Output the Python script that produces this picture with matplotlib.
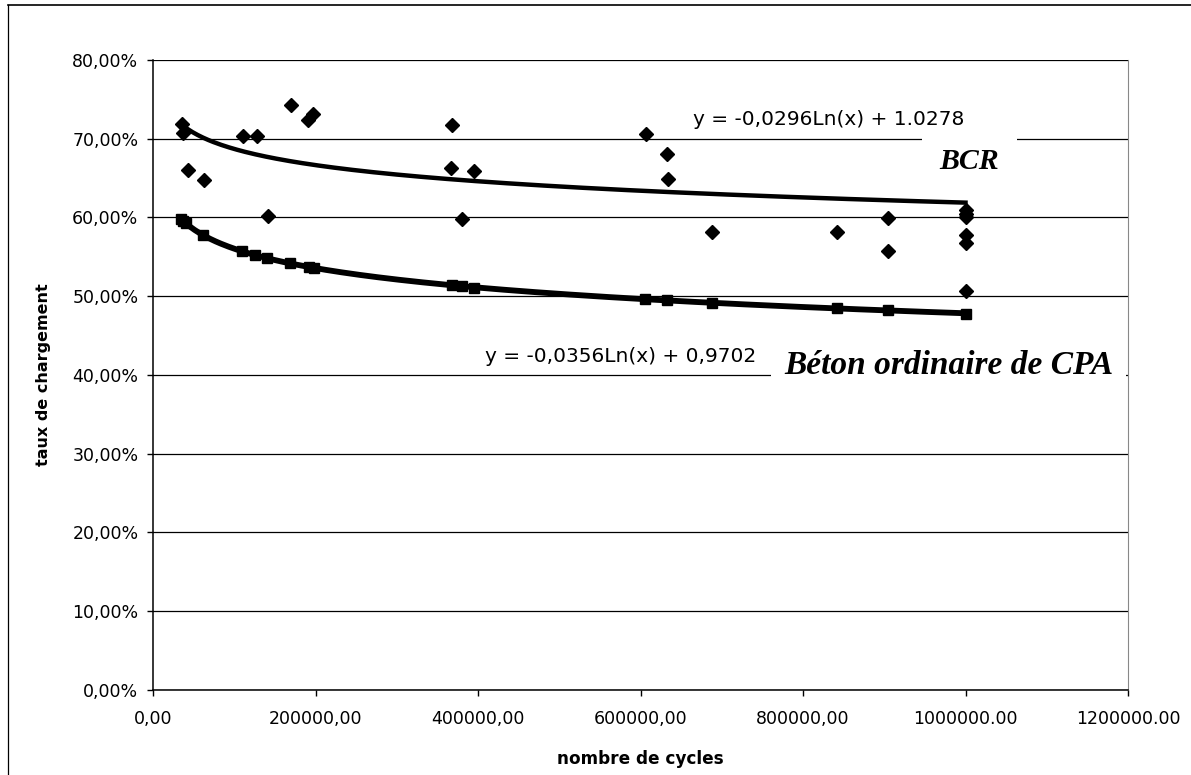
import numpy as np
import matplotlib.pyplot as plt
from matplotlib.lines import Line2D

# BCR specimens (diamonds)
bcr_cycles = [35700, 37300, 43400, 63100, 111100, 128400, 141900, 169800, 191100, 197300,
              368400, 366800, 379900, 395500, 606400, 633000, 634200, 688400,
              842200, 905000, 905000, 1000000, 1000000, 1000000, 1000000, 1000000, 1000000]
bcr_rate = [0.719, 0.707, 0.660, 0.647, 0.704, 0.704, 0.602, 0.743, 0.724, 0.731,
            0.718, 0.663, 0.598, 0.659, 0.706, 0.680, 0.649, 0.582,
            0.581, 0.599, 0.558, 0.610, 0.605, 0.601, 0.578, 0.567, 0.507]

# ordinary CPA concrete (squares)
cpa_cycles = [35000, 37000, 40000, 61000, 110000, 126000, 140000, 169000, 192000, 198000,
              368000, 380000, 395000, 605000, 633000, 688000, 842000, 905000, 1000000]
cpa_rate = [0.598, 0.596, 0.593, 0.578, 0.557, 0.552, 0.548, 0.542, 0.537, 0.536,
            0.514, 0.513, 0.511, 0.496, 0.495, 0.492, 0.485, 0.482, 0.478]

# logarithmic trendlines y = a*Ln(x) + b
bcr_a, bcr_b = -0.0296, 1.0278
cpa_a, cpa_b = -0.0356, 0.9702

x_ticks = [0, 200000, 400000, 600000, 800000, 1000000, 1200000]
x_ticklabels = ['0,00', '200000,00', '400000,00', '600000,00', '800000,00',
                '1000000.00', '1200000.00']
y_ticks = [0.0, 0.1, 0.2, 0.3, 0.4, 0.5, 0.6, 0.7, 0.8]
y_ticklabels = ['0,00%', '10,00%', '20,00%', '30,00%', '40,00%', '50,00%',
                '60,00%', '70,00%', '80,00%']

fig = plt.figure(figsize=(11.91, 7.75), dpi=100)
ax = fig.add_axes([0.1285, 0.1097, 0.8186, 0.8129])

# trendlines
xs = np.linspace(min(bcr_cycles), max(bcr_cycles), 300)
ax.plot(xs, bcr_a * np.log(xs) + bcr_b, color='black', lw=3.2, zorder=3)
xs = np.linspace(min(cpa_cycles), max(cpa_cycles), 300)
ax.plot(xs, cpa_a * np.log(xs) + cpa_b, color='black', lw=4.2, zorder=3)

ax.plot(bcr_cycles, bcr_rate, 'D', color='black', ms=7.5, zorder=4)
ax.plot(cpa_cycles, cpa_rate, 's', color='black', ms=6.5, zorder=4)

ax.set_xlim(0, 1200000)
ax.set_ylim(0, 0.8)
ax.set_xticks(x_ticks)
ax.set_xticklabels(x_ticklabels)
ax.set_yticks(y_ticks)
ax.set_yticklabels(y_ticklabels)
ax.tick_params(axis='both', direction='out', length=4.5, width=1, labelsize=12.5, colors='black')
ax.tick_params(axis='y', pad=6)
ax.tick_params(axis='x', pad=10)

ax.grid(axis='y', color='black', linewidth=0.9)
ax.set_axisbelow(True)
ax.spines['top'].set_visible(False)
ax.spines['right'].set_color('#888888')
ax.spines['right'].set_linewidth(0.8)
ax.spines['left'].set_linewidth(1.1)
ax.spines['bottom'].set_linewidth(1.1)

ax.set_xlabel('nombre de cycles', fontsize=12.2, fontweight='bold', labelpad=16)
ax.set_ylabel('taux de chargement', fontsize=11.5, fontweight='bold', labelpad=15)

# equation and series labels
ax.text(832000, 0.725, 'y = -0,0296Ln(x) + 1.0278', fontsize=14.5, ha='center', va='center')
ax.text(576000, 0.423, 'y = -0,0356Ln(x) + 0,9702', fontsize=14.5, ha='center', va='center')
ax.text(1005000, 0.671, 'BCR', fontsize=21.5, family='Liberation Serif', fontweight='bold',
        fontstyle='italic', ha='center', va='center', zorder=2,
        bbox=dict(facecolor='white', edgecolor='none', pad=13))
ax.text(979000, 0.412, 'Béton ordinaire de CPA', fontsize=24, family='Liberation Serif',
        fontweight='bold', fontstyle='italic', ha='center', va='center', zorder=2,
        bbox=dict(facecolor='white', edgecolor='none', pad=9))

# outer chart border (top and left)
fig.add_artist(Line2D([0.007, 1.0], [0.994, 0.994], color='black', lw=1.2))
fig.add_artist(Line2D([0.007, 0.007], [0.0, 0.994], color='black', lw=0.9))

fig.savefig('out.png', dpi=100)
